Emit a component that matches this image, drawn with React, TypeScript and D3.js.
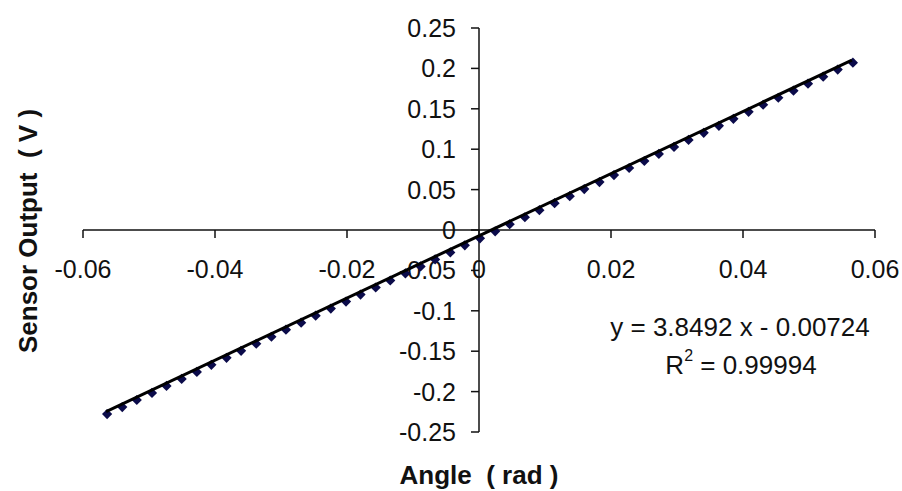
import React from "react";
import * as d3 from "d3";

const angleRad = [
  -0.0565, -0.0542, -0.052, -0.0497, -0.0475, -0.0452, -0.0429, -0.0407, -0.0384, -0.0362,
  -0.0339, -0.0316, -0.0294, -0.0271, -0.0249, -0.0226, -0.0203, -0.0181, -0.0158, -0.0136,
  -0.0113, -0.009, -0.0068, -0.0045, -0.0023, 0.0, 0.0023, 0.0045, 0.0068, 0.009,
  0.0113, 0.0136, 0.0158, 0.0181, 0.0203, 0.0226, 0.0249, 0.0271, 0.0294, 0.0316,
  0.0339, 0.0362, 0.0384, 0.0407, 0.0429, 0.0452, 0.0475, 0.0497, 0.052, 0.0542, 0.0565,
];
const sensorV = [
  -0.2247, -0.216, -0.2073, -0.1986, -0.1899, -0.1812, -0.1725, -0.1638, -0.1551, -0.1464,
  -0.1377, -0.129, -0.1203, -0.1116, -0.1029, -0.0942, -0.0855, -0.0768, -0.0681, -0.0594,
  -0.0507, -0.042, -0.0333, -0.0246, -0.0159, -0.0072, 0.0015, 0.0102, 0.0189, 0.0276,
  0.0363, 0.045, 0.0537, 0.0624, 0.0711, 0.0798, 0.0885, 0.0972, 0.1059, 0.1146,
  0.1233, 0.132, 0.1407, 0.1494, 0.1581, 0.1668, 0.1755, 0.1842, 0.1929, 0.2016, 0.2102,
];
const trendSlope = 3.8492;
const trendIntercept = -0.00724;
const xTicks = [-0.06, -0.04, -0.02, 0, 0.02, 0.04, 0.06];
const xTickLabels = ["-0.06", "-0.04", "-0.02", "0", "0.02", "0.04", "0.06"];
const yTicks = [0.25, 0.2, 0.15, 0.1, 0.05, 0, -0.05, -0.1, -0.15, -0.2, -0.25];
const yTickLabels = ["0.25", "0.2", "0.15", "0.1", "0.05", "0", "-0.05", "-0.1", "-0.15", "-0.2", "-0.25"];
const eqText = "y = 3.8492 x - 0.00724";
const r2Value = "0.99994";
const xTitle = "Angle  ( rad )";
const yTitle = "Sensor Output  ( V )";

const W = 902;
const H = 491;
const FONT = "'Liberation Sans', Arial, sans-serif";

export default function App() {
  const x = d3.scaleLinear().domain([-0.06, 0.06]).range([83, 875]);
  const y = d3.scaleLinear().domain([-0.25, 0.25]).range([432, 28]);
  const x0 = x(0);
  const y0 = y(0);
  const xMin = d3.min(angleRad)!;
  const xMax = d3.max(angleRad)!;
  const trend = d3
    .line<number>()
    .x((d) => x(d))
    .y((d) => y(trendSlope * d + trendIntercept));
  const marker = d3.symbol().type(d3.symbolSquare).size(52)();
  const pts = angleRad.map((a, i) => [a, sensorV[i]] as [number, number]);
  const pre = { whiteSpace: "pre" as const };

  return (
    <svg
      width={W}
      height={H}
      viewBox={`0 0 ${W} ${H}`}
      style={{ position: "absolute", left: 0, top: 0, background: "#fff" }}
      fontFamily={FONT}
    >
      <rect x={0} y={0} width={W} height={H} fill="#fff" />
      {/* x axis */}
      <line x1={x(-0.06)} x2={x(0.06)} y1={y0} y2={y0} stroke="#111" strokeWidth={1.5} />
      {xTicks.map((t, i) => (
        <g key={"xt" + i}>
          <line x1={x(t)} x2={x(t)} y1={y0} y2={y0 + 8} stroke="#111" strokeWidth={1.5} />
          <text x={x(t)} y={y0 + 39} textAnchor="middle" dominantBaseline="central" fontSize={25} fill="#111">
            {xTickLabels[i]}
          </text>
        </g>
      ))}
      {/* y axis */}
      <line x1={x0} x2={x0} y1={y(0.25)} y2={y(-0.25)} stroke="#111" strokeWidth={1.5} />
      {yTicks.map((t, i) => (
        <g key={"yt" + i}>
          <line x1={x0 - 8} x2={x0} y1={y(t)} y2={y(t)} stroke="#111" strokeWidth={1.5} />
          <text x={x0 - 23} y={y(t)} textAnchor="end" dominantBaseline="central" fontSize={25} fill="#111">
            {yTickLabels[i]}
          </text>
        </g>
      ))}
      {/* data markers */}
      {pts.map((p, i) => (
        <path
          key={"m" + i}
          d={marker!}
          transform={`translate(${x(p[0]) + 1},${y(p[1]) + 2.5}) rotate(45)`}
          fill="#0b0b4a"
        />
      ))}
      {/* trendline */}
      <path d={trend([xMin, xMax])!} stroke="#000" strokeWidth={3} fill="none" />
      {/* equation */}
      <text x={740} y={327} textAnchor="middle" dominantBaseline="central" fontSize={26} fill="#111" style={pre}>
        {eqText}
      </text>
      <text x={741} y={365} textAnchor="middle" dominantBaseline="central" fontSize={26} fill="#111" style={pre}>
        R<tspan fontSize={16} dy={-10}>2</tspan>
        <tspan dy={10}>{" = " + r2Value}</tspan>
      </text>
      {/* titles */}
      <text
        x={479}
        y={475}
        textAnchor="middle"
        dominantBaseline="central"
        fontSize={26}
        fontWeight="bold"
        fill="#111"
        style={pre}
      >
        {xTitle}
      </text>
      <text
        transform={`translate(28,231) rotate(-90)`}
        textAnchor="middle"
        dominantBaseline="central"
        fontSize={26}
        fontWeight="bold"
        fill="#111"
        style={pre}
      >
        {yTitle}
      </text>
    </svg>
  );
}
